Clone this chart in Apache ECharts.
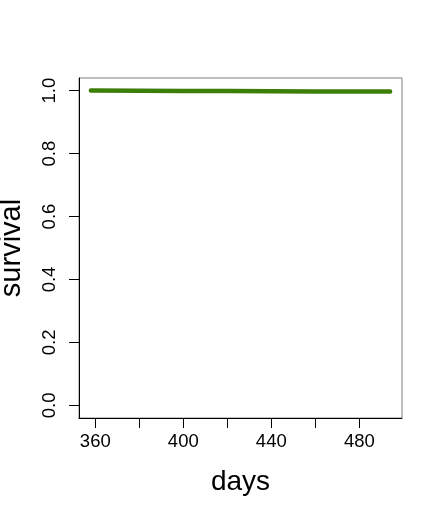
<!DOCTYPE html>
<html>
<head>
<meta charset="utf-8">
<script src="https://cdn.jsdelivr.net/npm/echarts@6/dist/echarts.min.js"></script>
<style>
  html, body { margin: 0; padding: 0; background: #fff; }
  #chart { width: 442px; height: 516px; }
</style>
</head>
<body>
<div id="chart"></div>
<script>
// survival curve
const days = [358, 380, 400, 420, 440, 460, 480, 494]
const survival = [1.0, 0.9995, 0.999, 0.9985, 0.998, 0.9975, 0.997, 0.9968]

const xTicks = [360, 380, 400, 420, 440, 460, 480]
const xLabels = [360, 400, 440, 480]
const yTicks = [0, 0.2, 0.4, 0.6, 0.8, 1.0]

const font = '"Liberation Sans", Arial, Helvetica, sans-serif'

const chart = echarts.init(document.getElementById('chart'), null, { renderer: 'canvas' })
chart.setOption({
  animation: false,
  backgroundColor: '#fff',
  grid: {
    left: 79, right: 40, top: 78, bottom: 98,
    containLabel: false, outerBoundsMode: 'none',
    show: true, borderColor: '#808080', borderWidth: 1, backgroundColor: 'transparent'
  },
  xAxis: {
    type: 'value',
    min: 352.6, max: 499.4,
    name: 'days',
    nameLocation: 'middle',
    nameGap: 50,
    nameTextStyle: { fontFamily: font, fontSize: 28, color: '#000' },
    splitLine: { show: false },
    axisLine: { show: true, onZero: false, lineStyle: { color: '#000', width: 1 } },
    axisTick: { show: true, customValues: xTicks, length: 10, lineStyle: { color: '#000' } },
    axisLabel: {
      customValues: xLabels, margin: 14,
      fontFamily: font, fontSize: 18.5, color: '#000'
    }
  },
  yAxis: {
    type: 'value',
    min: -0.04, max: 1.04,
    name: 'survival',
    nameLocation: 'middle',
    nameGap: 53,
    nameRotate: 90,
    nameTextStyle: { fontFamily: font, fontSize: 29, color: '#000' },
    splitLine: { show: false },
    axisLine: { show: true, onZero: false, lineStyle: { color: '#000', width: 1 } },
    axisTick: { show: true, customValues: yTicks, length: 10, lineStyle: { color: '#000' } },
    axisLabel: {
      customValues: yTicks, margin: 20, rotate: 90,
      fontFamily: font, fontSize: 18.5, color: '#000',
      formatter: v => v.toFixed(1)
    }
  },
  series: [{
    type: 'line',
    data: days.map((d, i) => [d, survival[i]]),
    showSymbol: false,
    lineStyle: { color: '#3d7f06', width: 4.5, cap: 'round' },
    itemStyle: { color: '#3d7f06' }
  }]
})
</script>
</body>
</html>
